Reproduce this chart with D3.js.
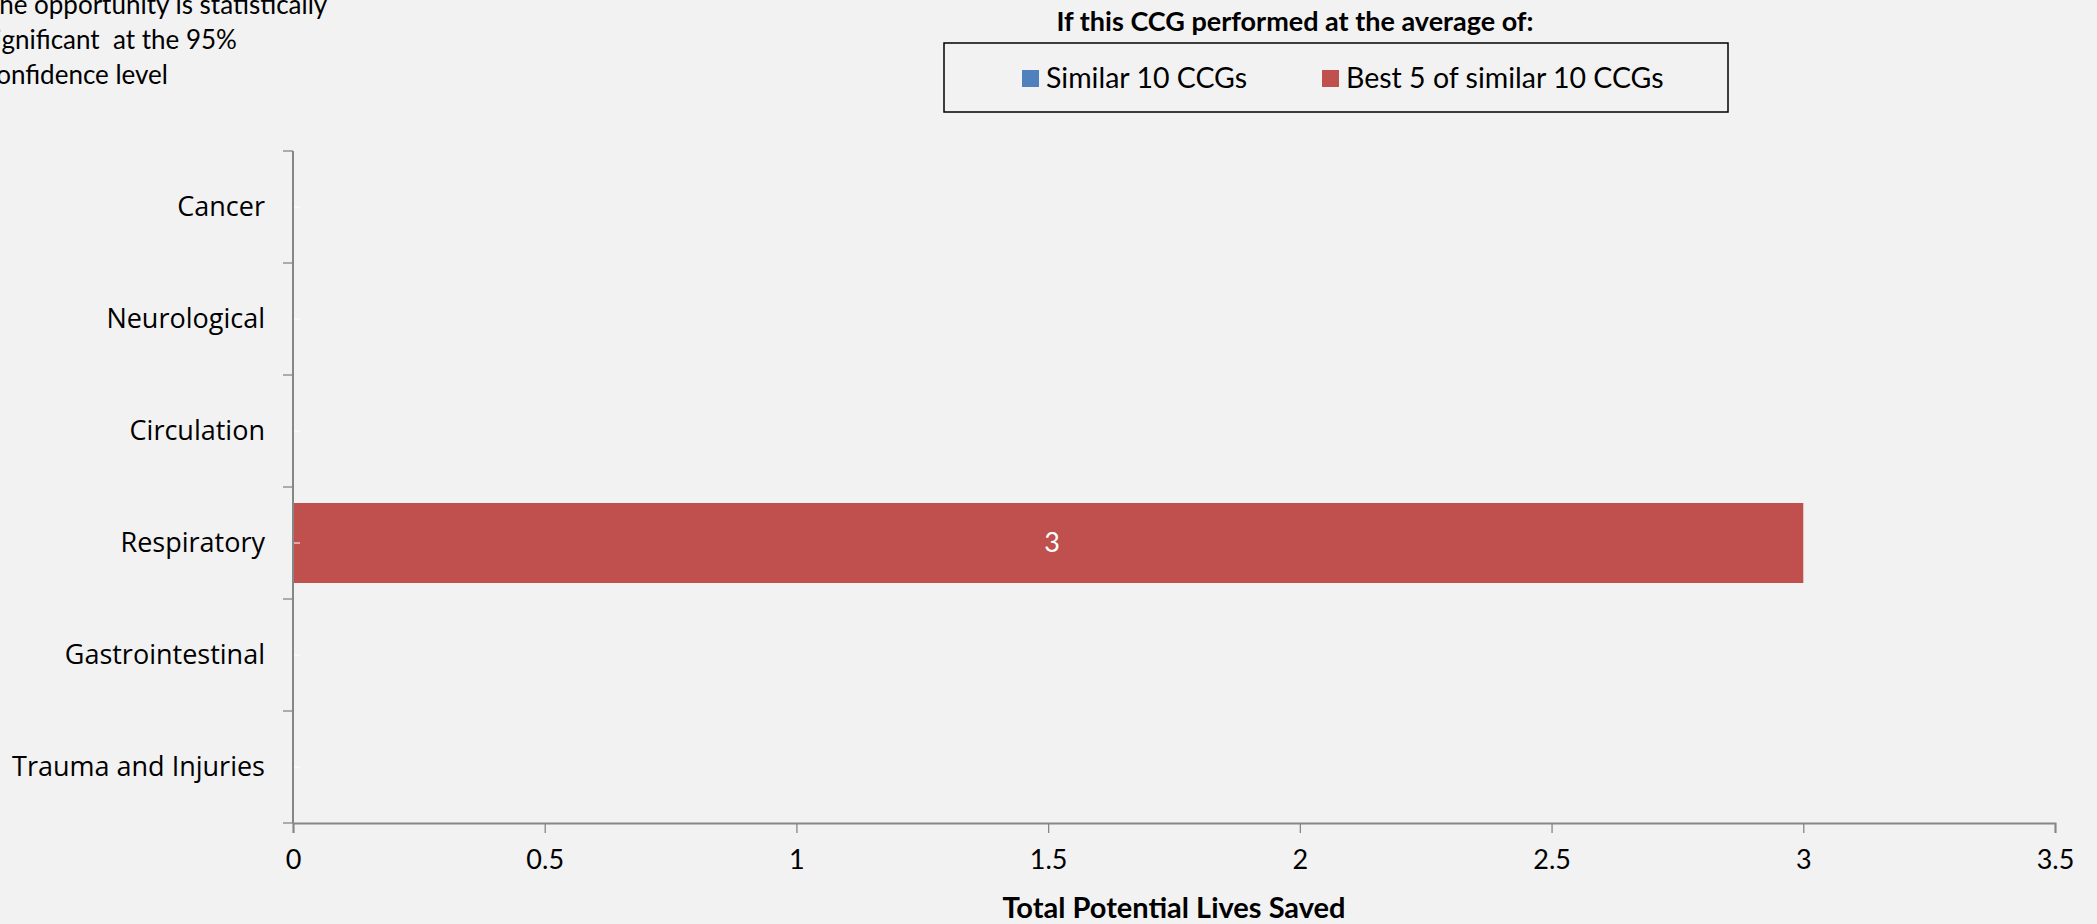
<!DOCTYPE html>
<html>
<head>
<meta charset="utf-8">
<script src="https://cdn.jsdelivr.net/npm/d3@7"></script>
<style>
  html, body { margin: 0; padding: 0; background: #f2f2f2; overflow: hidden; }
  svg { display: block; font-family: Lato, "Open Sans", sans-serif; }
</style>
</head>
<body>
<svg id="chart"></svg>
<script>
// chart data
var categories = ["Cancer", "Neurological", "Circulation", "Respiratory", "Gastrointestinal", "Trauma and Injuries"];
var similar10 = [0, 0, 0, 0, 0, 0];
var best5 = [0, 0, 0, 3, 0, 0];
var seriesNames = ["Similar 10 CCGs", "Best 5 of similar 10 CCGs"];
var xTicks = [0, 0.5, 1, 1.5, 2, 2.5, 3, 3.5];
var noteLines = ["The opportunity is statistically", "significant  at the 95%", "confidence level"];

var svgWidth = 2097, svgHeight = 924;
var colors = ["#4f81bd", "#c0504d"];

var svg = d3.select("#chart")
    .attr("width", svgWidth)
    .attr("height", svgHeight);

var x = d3.scaleLinear()
    .domain([0, 3.5])
    .range([293, 2055]);

var y = d3.scaleBand()
    .domain(categories)
    .range([151, 823]);

var barPad = 16;

// stacked bars: similar then best 5
var rows = categories.map(function(c, i) {
    return { cat: c, values: [similar10[i], best5[i]] };
});

rows.forEach(function(r) {
    var start = 0;
    r.values.forEach(function(v, k) {
        if (v > 0) {
            svg.append("rect")
                .attr("x", x(start))
                .attr("y", y(r.cat) + barPad)
                .attr("width", x(start + v) - x(start))
                .attr("height", y.bandwidth() - barPad * 2)
                .attr("fill", colors[k]);
            svg.append("text")
                .attr("x", (x(start) + x(start + v)) / 2 + 4)
                .attr("y", y(r.cat) + y.bandwidth() / 2)
                .attr("dy", "0.35em")
                .attr("text-anchor", "middle")
                .attr("fill", "#fff")
                .style("font-size", "27px")
                .text(v);
        }
        start += v;
    });
});

// x axis
var xAxis = svg.append("g")
    .attr("transform", "translate(0," + 823 + ")")
    .call(d3.axisBottom(x).tickValues(xTicks).tickFormat(d3.format("")).tickSizeOuter(0).tickSize(10).tickPadding(17));
xAxis.select(".domain").attr("stroke", "#868686").attr("stroke-width", 2);
xAxis.selectAll(".tick line").attr("stroke", "#868686").attr("stroke-width", 1.3);
xAxis.selectAll(".tick text")
    .attr("fill", "#000")
    .style("font-family", "Lato, sans-serif")
    .style("font-size", "27px");

// y axis: ticks between categories, labels at centres
var yAxis = svg.append("g").attr("transform", "translate(293,0)");
yAxis.append("line")
    .attr("x1", 0).attr("x2", 0)
    .attr("y1", y.range()[0]).attr("y2", y.range()[1])
    .attr("stroke", "#868686").attr("stroke-width", 2);

var bounds = categories.map(function(c) { return y(c); }).concat([y.range()[1]]);
yAxis.selectAll(".bound")
    .data(bounds)
    .enter().append("line")
    .attr("x1", -10).attr("x2", 0)
    .attr("y1", function(d) { return d; })
    .attr("y2", function(d) { return d; })
    .attr("stroke", "#868686").attr("stroke-width", 1.3);

yAxis.selectAll(".mid")
    .data(categories)
    .enter().append("line")
    .attr("x1", 1).attr("x2", 7)
    .attr("y1", function(d) { return y(d) + y.bandwidth() / 2; })
    .attr("y2", function(d) { return y(d) + y.bandwidth() / 2; })
    .attr("stroke", "#ffffff").attr("stroke-width", 1);

yAxis.selectAll(".lab")
    .data(categories)
    .enter().append("text")
    .attr("x", -28)
    .attr("y", function(d) { return y(d) + y.bandwidth() / 2; })
    .attr("dy", "0.35em")
    .attr("text-anchor", "end")
    .attr("fill", "#000")
    .style("font-family", "'Open Sans', sans-serif")
    .style("font-size", "27px")
    .text(function(d) { return d; });

// axis title
svg.append("text")
    .attr("x", 1174)
    .attr("y", 918)
    .attr("text-anchor", "middle")
    .style("font-weight", "bold")
    .style("font-size", "29px")
    .text("Total Potential Lives Saved");

// legend
svg.append("text")
    .attr("x", 1295)
    .attr("y", 31)
    .attr("text-anchor", "middle")
    .style("font-weight", "bold")
    .style("font-size", "27px")
    .text("If this CCG performed at the average of:");

svg.append("rect")
    .attr("x", 944).attr("y", 43)
    .attr("width", 784).attr("height", 69)
    .attr("fill", "none")
    .attr("stroke", "#000").attr("stroke-width", 1.5);

var legendX = [1022, 1322];
seriesNames.forEach(function(name, k) {
    svg.append("rect")
        .attr("x", legendX[k]).attr("y", 70)
        .attr("width", 17).attr("height", 17)
        .attr("fill", colors[k]);
    svg.append("text")
        .attr("x", legendX[k] + 24)
        .attr("y", 88)
        .style("font-size", "28.5px")
        .text(name);
});

// note in top-left corner (cut off at the left edge, as in the source)
svg.append("g").selectAll("text")
    .data(noteLines)
    .enter().append("text")
    .attr("x", -16)
    .attr("y", function(d, i) { return 14 + i * 35; })
    .style("font-size", "26px")
    .style("white-space", "pre")
    .text(function(d) { return d; });
</script>
</body>
</html>
